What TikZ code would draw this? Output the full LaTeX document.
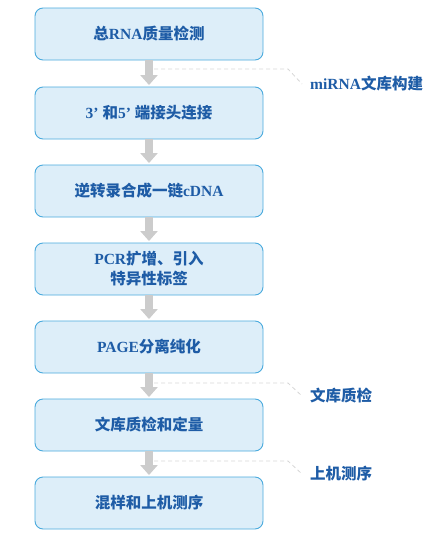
\documentclass[tikz,border=0pt]{standalone}
\usepackage{fontspec}
\setmainfont{Liberation Serif}
\newfontfamily\cjk{Noto Sans CJK SC}
\newcommand\lat[1]{{\rmfamily\bfseries #1}}
\usetikzlibrary{arrows.meta}
\definecolor{boxfill}{HTML}{DDEEF9}
\definecolor{boxline}{HTML}{4AAADD}
\definecolor{txtblue}{HTML}{1E5CA6}
\definecolor{arrgray}{HTML}{CCCCCC}
\definecolor{dashgray}{HTML}{D6D6D6}
\tikzset{
  stepbox/.style={draw=boxline, line width=0.9pt, fill=boxfill, rounded corners=8pt,
    minimum width=228pt, minimum height=52pt, inner sep=0pt, align=center,
    font=\bfseries\fontsize{15.5}{20}\selectfont\cjk, text=txtblue},
  flowarrow/.style={draw=arrgray, line width=8pt, -{Triangle[width=17pt,length=10pt]}, shorten >=1.5pt},
  leader/.style={draw=dashgray, line width=0.8pt, dash pattern=on 4pt off 3pt},
  sidelabel/.style={anchor=west, inner sep=0pt, font=\bfseries\fontsize{15.5}{20}\selectfont\cjk, text=txtblue}
}
\begin{document}
\begin{tikzpicture}[x=1pt,y=-1pt]
\useasboundingbox (0,0) rectangle (433,538);
\node[stepbox] (b1) at (149,34) {总\lat{RNA}质量检测};
\node[stepbox] (b2) at (149,113) {\lat{3’}\hspace{4pt}和\lat{5’}\hspace{4pt}端接头连接};
\node[stepbox] (b3) at (149,191) {逆转录合成一链\lat{cDNA}};
\node[stepbox] (b4) at (149,269) {\lat{PCR}扩增、引入\\特异性标签};
\node[stepbox] (b5) at (149,347) {\lat{PAGE}分离纯化};
\node[stepbox] (b6) at (149,425) {文库质检和定量};
\node[stepbox] (b7) at (149,503) {混样和上机测序};
\foreach \a/\b in {b1/b2,b2/b3,b3/b4,b4/b5,b5/b6,b6/b7}
  \draw[flowarrow] (\a.south) -- (\b.north);
\node[sidelabel] (l1) at (310,84) {\lat{miRNA}文库构建};
\node[sidelabel] (l2) at (310,396) {文库质检};
\node[sidelabel] (l3) at (310,474) {上机测序};
\coordinate (d1a) at (154,69); \coordinate (d1b) at (288,69);
\coordinate (d2a) at (154,383); \coordinate (d2b) at (288,383);
\coordinate (d3a) at (154,461); \coordinate (d3b) at (288,461);
\draw[leader] (d1a) -- (d1b) -- ([xshift=-8pt]l1.west);
\draw[leader] (d2a) -- (d2b) -- ([xshift=-8pt]l2.west);
\draw[leader] (d3a) -- (d3b) -- ([xshift=-8pt]l3.west);
\end{tikzpicture}
\end{document}
